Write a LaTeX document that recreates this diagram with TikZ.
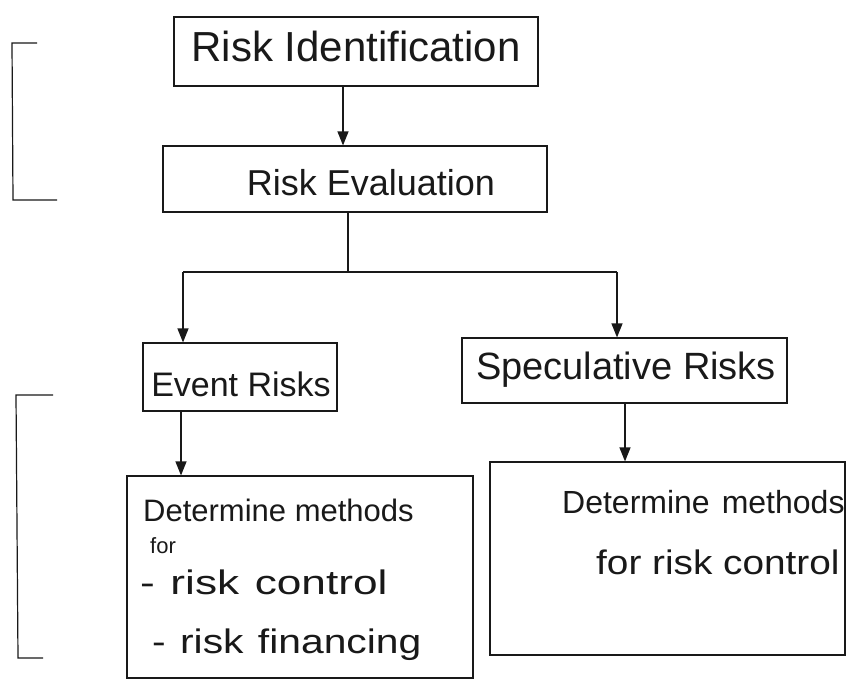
\documentclass[tikz,border=0pt]{standalone}
\usepackage{fontspec}
\setmainfont{Liberation Sans}
\usetikzlibrary{arrows.meta}
\begin{document}
\begin{tikzpicture}[x=1pt,y=-1pt,
  ink/.style={draw=black!90,line width=1.2pt},
  boxnode/.style={ink,rectangle,inner sep=0pt,anchor=center},
  txt/.style={inner sep=0pt,text=black!90},
  arr/.style={ink,-{Triangle[length=14pt,width=11pt]}},
  lnk/.style={ink}]
\useasboundingbox (0,0) rectangle (846,681);
\fill[white] (0,0) rectangle (846,681);
% brackets
\draw[ink] (37,43) -- (12,43) -- (13,200) -- (57,200);
\draw[ink] (53,395) -- (16,395) -- (18,658) -- (43,658);
% boxes
\node[boxnode,minimum width=364pt,minimum height=69pt] (ident) at (356,51.5) {};
\node[txt,font=\fontsize{42}{46}\selectfont] (identt) at (356,46) {Risk Identification};
\node[boxnode,minimum width=384pt,minimum height=66pt] (eval) at (355,179) {};
\node[txt,font=\fontsize{36}{40}\selectfont] (evalt) at (371,183) {Risk Evaluation};
\node[boxnode,minimum width=194pt,minimum height=68pt] (event) at (240,377) {};
\node[txt,font=\fontsize{34}{38}\selectfont] (eventt) at (241,384) {Event Risks};
\node[boxnode,minimum width=325pt,minimum height=65pt] (spec) at (624.5,370.5) {};
\node[txt,font=\fontsize{38}{42}\selectfont] (spect) at (626,370) {Speculative Risks};
\node[boxnode,minimum width=346pt,minimum height=202pt] (lbox) at (300,577) {};
\node[boxnode,minimum width=355pt,minimum height=193pt] (rbox) at (667.5,558.5) {};
% left box text
\node[txt,anchor=west,font=\fontsize{31}{34}\selectfont] (l1) at (143,510) {Determine methods};
\node[txt,anchor=west,font=\fontsize{22}{24}\selectfont] (l2) at (150,546) {for};
\node[txt,anchor=west,font=\fontsize{34}{38}\selectfont] (l3) at (140,582) {\scalebox{1.3}[1]{-\hspace{12pt}risk\hspace{12pt}control}};
\node[txt,anchor=west,font=\fontsize{34}{38}\selectfont] (l4) at (152,645) {\scalebox{1.2}[1]{-\hspace{12pt}risk\hspace{12pt}financing}};
% right box text
\node[txt,anchor=west,font=\fontsize{32}{36}\selectfont] (r1) at (562,502) {Determine\hspace{12pt}methods};
\node[txt,anchor=west,font=\fontsize{34}{38}\selectfont] (r2) at (596,562) {\scalebox{1.14}[1]{for risk control}};
% connectors
\coordinate (j) at (348,272);
\coordinate (jl) at (183,272);
\coordinate (jr) at (617,272);
\draw[arr] (ident.south -| 343,0) -- (eval.north -| 343,0);
\draw[lnk] (eval.south -| j) -- (j);
\draw[lnk] (jl) -- (jr);
\draw[arr] (jl) -- (event.north -| jl);
\draw[arr] (jr) -- (spec.north -| jr);
\draw[arr] (event.south -| 181,0) -- (lbox.north -| 181,0);
\draw[arr] (spec.south -| 625,0) -- (rbox.north -| 625,0);
\end{tikzpicture}
\end{document}
